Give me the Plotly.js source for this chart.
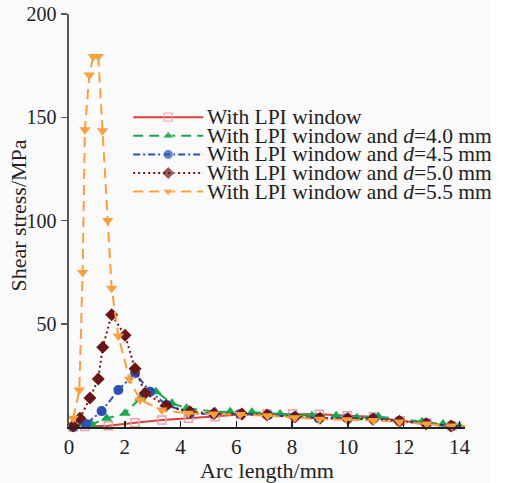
<!DOCTYPE html>
<html><head><meta charset="utf-8">
<script src="https://cdn.plot.ly/plotly-3.0.1.min.js"></script>
<style>html,body{margin:0;padding:0;background:#fff;}#chart{width:491px;height:483px;}</style>
</head><body><div id="chart"></div>
<script>
// ---- data ----
const seriesNames = ["With LPI window","With LPI window and <i>d</i>=4.0 mm","With LPI window and <i>d</i>=4.5 mm","With LPI window and <i>d</i>=5.0 mm","With LPI window and <i>d</i>=5.5 mm"];
const xRed = [0.15,0.57,1.41,2.37,3.33,4.28,5.24,6.14,7.09,8.02,8.98,9.97,10.92,11.88,12.83,13.73,14.6];
const yRed = [0,0.2,0.6,2.1,3.4,4.2,5.0,6.0,6.3,6.4,6.2,5.5,5.0,3.0,1.8,0.5,0.2];
const xGreen = [0.15,0.81,1.35,2.01,2.55,3.12,3.69,4.22,5.24,5.78,6.56,7.57,8.71,9.58,10.32,11.1,12.66,13.41,14.0];
const yGreen = [1.0,1.3,4.2,6.6,13.9,17.1,11.5,9.1,7.4,7.4,7.1,6.3,5.5,5.5,4.5,5.0,2.6,1.5,0.5];
const xBlue = [0.15,0.61,1.17,1.77,2.37,2.91,3.5,4.34,5.18,6.14,7.15,8.1,8.95,9.97,10.92,11.85,12.83,13.73,14.6];
const yBlue = [0.0,1.5,7.7,17.9,26.0,17.1,10.7,6.6,6.3,6.3,5.8,5.0,4.2,4.2,4.2,2.9,1.8,0.5,0.2];
const xDark = [0.15,0.39,0.75,1.05,1.21,1.53,2.01,2.37,2.73,3.48,4.34,5.2,6.2,7.1,8.1,9.0,10.0,10.9,11.85,12.8,13.7,14.6];
const yDark = [0.5,4.2,14.0,23.3,38.6,54.3,44.4,28.2,16.3,10.3,7.4,6.5,6.3,5.8,4.8,4.2,4.0,3.8,2.8,1.6,0.5,0.2];
const xOrange = [0.15,0.37,0.49,0.57,0.73,0.87,1.05,1.2,1.39,1.53,1.77,2.17,2.55,3.33,4.28,5.2,6.14,7.12,8.1,8.98,9.97,10.92,11.85,12.83,13.73,14.6];
const yOrange = [4.2,17.9,74.8,143.9,170.5,179.4,179.4,143.5,100,67.2,44.1,23.1,13.1,8.2,6.6,6.3,6.0,5.5,4.5,3.8,3.5,3.2,2.4,1.5,0.5,0.2];
const xTicks = [0,2,4,6,8,10,12,14];
const yTicks = [50,100,150,200];
const xTitle = 'Arc length/mm';
const yTitle = 'Shear stress/MPa';

// ---- styles ----
const styles = [
  {color:'#d8403a', dash:'solid', marker:{symbol:'square-open', size:8, color:'#eaa0a0', line:{width:1.5,color:'#eaa0a0'}}},
  {color:'#1aa84c', dash:'10px,6px', marker:{symbol:'triangle-up', size:10, color:'#1aa84c'}},
  {color:'#2d50b4', dash:'7px,3px,2px,3px', marker:{symbol:'circle', size:10, color:'#2d50b4'}},
  {color:'#6a1616', dash:'2px,3px', marker:{symbol:'diamond', size:10, color:'#6a1616'}},
  {color:'#f5a03c', dash:'10px,6px', marker:{symbol:'triangle-down', size:10, color:'#f5a03c'}}
];
const xs = [xRed,xGreen,xBlue,xDark,xOrange];
const ys = [yRed,yGreen,yBlue,yDark,yOrange];
const font = "'Liberation Serif', 'Times New Roman', serif";

const traces = [];
for (let i=0;i<5;i++){
  traces.push({x:xs[i], y:ys[i], type:'scatter', mode:'lines+markers', name:seriesNames[i],
    line:{color:styles[i].color, width:2, dash:styles[i].dash}, marker:styles[i].marker,
    cliponaxis:false, showlegend:false});
}
// custom legend on an overlay axis in [0,1] units
const legX0 = 0.162, legX1 = 0.339, legTop = 0.75, legGap = 0.045;
const annotations = [];
for (let i=0;i<5;i++){
  const yy = legTop - i*legGap;
  const m = Object.assign({}, styles[i].marker, {size:[0, styles[i].marker.size, 0]});
  traces.push({x:[legX0,(legX0+legX1)/2,legX1], y:[yy,yy,yy], xaxis:'x2', yaxis:'y2', type:'scatter', mode:'lines+markers',
    line:{color:styles[i].color, width:2, dash:styles[i].dash}, marker:m, showlegend:false, hoverinfo:'skip'});
  annotations.push({xref:'x2', yref:'y2', x:legX1+0.005, y:yy, xanchor:'left', yanchor:'middle', showarrow:false,
    text:seriesNames[i], font:{family:font, size:21.5, color:'#222'}});
}
// y axis title placed close to the tick labels, as in the reference
annotations.push({xref:'paper', yref:'paper', x:0, y:0.512, xshift:-50, xanchor:'center', yanchor:'middle',
  textangle:-90, showarrow:false, text:yTitle, font:{family:font, size:22, color:'#222'}});

const layout = {
  width:491, height:483,
  paper_bgcolor:'#fafafa', plot_bgcolor:'#fafafa',
  margin:{l:69, r:26, t:14, b:56},
  showlegend:false,
  font:{family:font, size:20, color:'#222'},
  xaxis:{range:[0,14.2], tickvals:xTicks, ticks:'inside', ticklen:6, tickwidth:1.5, tickcolor:'#222',
    showline:true, linecolor:'#222', linewidth:1.5, showgrid:false, zeroline:false,
    tickfont:{family:font, size:21, color:'#222'},
    title:{text:xTitle, font:{family:font, size:22, color:'#222'}, standoff:6}},
  yaxis:{range:[0,200], tickvals:yTicks, ticks:'outside', ticklen:6, tickwidth:1.5, tickcolor:'#555',
    showline:true, linecolor:'#555', linewidth:2.5, showgrid:false, zeroline:false,
    tickfont:{family:font, size:20, color:'#222'}},
  xaxis2:{overlaying:'x', range:[0,1], visible:false, fixedrange:true},
  yaxis2:{overlaying:'y', range:[0,1], visible:false, fixedrange:true},
  annotations:annotations
};
Plotly.newPlot('chart', traces, layout, {displayModeBar:false, staticPlot:true});
</script></body></html>
